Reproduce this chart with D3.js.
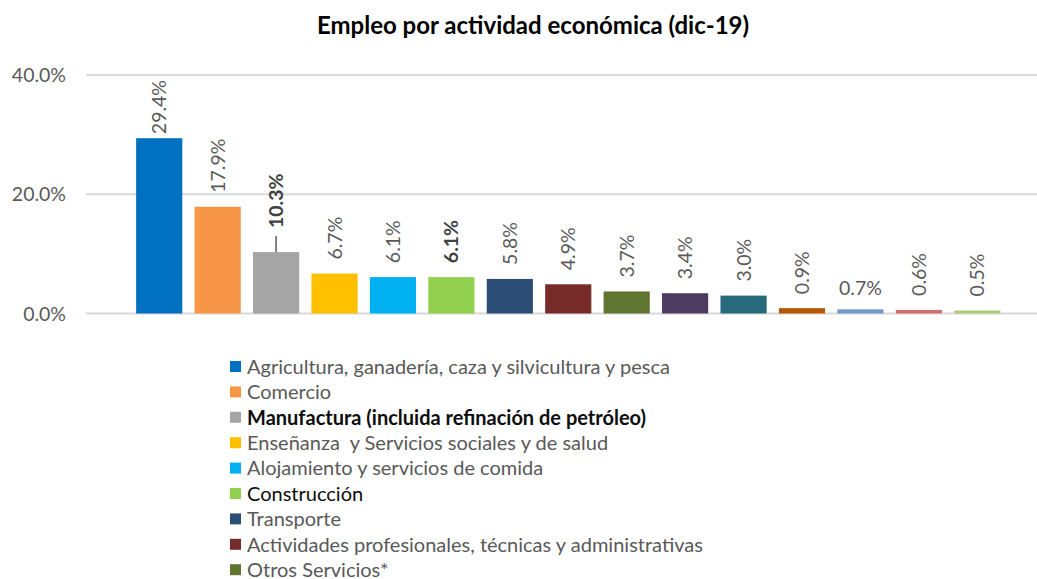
<html>
<head>
<meta charset="utf-8">
<script src="https://d3js.org/d3.v7.min.js"></script>
<style>
  body { margin: 0; background: #fff; }
  svg { display: block; font-family: Lato, "Open Sans", sans-serif; }
</style>
</head>
<body>
<svg width="1037" height="579"></svg>
<script>
// chart data
var categories = [
  "Agricultura, ganadería, caza y silvicultura y pesca",
  "Comercio",
  "Manufactura (incluida refinación de petróleo)",
  "Enseñanza  y Servicios sociales y de salud",
  "Alojamiento y servicios de comida",
  "Construcción",
  "Transporte",
  "Actividades profesionales, técnicas y administrativas",
  "Otros Servicios*",
  "Categoría 10",
  "Categoría 11",
  "Categoría 12",
  "Categoría 13",
  "Categoría 14",
  "Categoría 15"
];
var values = [29.4, 17.9, 10.3, 6.7, 6.1, 6.1, 5.8, 4.9, 3.7, 3.4, 3.0, 0.9, 0.7, 0.6, 0.5];
var colors = ["#0070c0", "#f79646", "#a5a5a5", "#ffc000", "#00b0f0", "#92d050", "#2c4d75",
              "#772c2a", "#5f7530", "#4d3b62", "#276a7c", "#b65708", "#729aca", "#d16e6b", "#afc97a"];
var yTicks = [0, 20, 40];
var legendCount = 9;   // only the first nine entries fit in the picture
var title = "Empleo por actividad económica (dic-19)";

var svg = d3.select("svg");
var gray = "#595959";

var y = d3.scaleLinear().domain([0, 40]).range([313.5, 75]);
var x = d3.scaleBand()
    .domain(d3.range(values.length))
    .range([130, 1006.5])
    .paddingInner(0.21)
    .paddingOuter(0.105);

// title
svg.append("text")
    .attr("x", 533).attr("y", 34)
    .attr("text-anchor", "middle")
    .style("font-size", "24px").style("font-weight", "bold")
    .style("fill", "#000")
    .text(title);

// gridlines + y labels
svg.append("g").selectAll("line")
    .data(yTicks).enter().append("line")
    .attr("x1", 86).attr("x2", 1037)
    .attr("y1", function(d) { return y(d); })
    .attr("y2", function(d) { return y(d); })
    .style("stroke", "#d9d9d9").style("stroke-width", "2px");

svg.append("g").selectAll("text")
    .data(yTicks).enter().append("text")
    .attr("x", 66)
    .attr("y", function(d) { return y(d); })
    .attr("dy", "0.36em")
    .attr("text-anchor", "end")
    .style("font-size", "19.5px").style("fill", gray)
    .text(function(d) { return d.toFixed(1) + "%"; });

// bars
svg.append("g").selectAll("rect")
    .data(values).enter().append("rect")
    .attr("x", function(d, i) { return x(i); })
    .attr("width", x.bandwidth())
    .attr("y", function(d) { return y(d); })
    .attr("height", function(d) { return y(0) - y(d); })
    .style("fill", function(d, i) { return colors[i]; });

// data labels
var boldLabels = [2, 5];
var flatLabel = 12;
var leaderIdx = 2;
var labels = svg.append("g");
values.forEach(function(v, i) {
  var cx = x(i) + x.bandwidth() / 2;
  var top = y(v);
  var bold = boldLabels.indexOf(i) >= 0;
  var t = labels.append("text")
      .style("font-size", "19.5px")
      .style("fill", bold ? "#404040" : gray)
      .style("font-weight", bold ? "bold" : "normal")
      .text(v.toFixed(1) + "%");
  if (i === flatLabel) {
    t.attr("x", cx).attr("y", top - 14).attr("text-anchor", "middle");
    return;
  }
  var len = t.node().getComputedTextLength();
  var bottom = top - 14;
  if (i === leaderIdx) {
    bottom = top - 24;
    labels.append("line")
        .attr("x1", cx).attr("x2", cx)
        .attr("y1", top).attr("y2", top - 16)
        .style("stroke", gray).style("stroke-width", "1.5px");
  }
  bottom = Math.max(bottom, 80 + len);
  t.attr("transform", "translate(" + cx + "," + bottom + ") rotate(-90)")
   .attr("dy", "0.36em");
});

// legend
var legend = svg.append("g").selectAll("g")
    .data(categories.slice(0, legendCount)).enter().append("g")
    .attr("transform", function(d, i) { return "translate(230," + (366.5 + i * 25.4) + ")"; });

legend.append("rect")
    .attr("x", 0).attr("y", -5.5)
    .attr("width", 11).attr("height", 11)
    .style("fill", function(d, i) { return colors[i]; });

legend.append("text")
    .attr("x", 17).attr("dy", "0.36em")
    .style("font-size", "20px")
    .style("fill", function(d, i) { return i === 2 || i === 5 ? "#0d0d0d" : gray; })
    .style("font-weight", function(d, i) { return i === 2 ? "bold" : "normal"; })
    .style("white-space", "pre")
    .text(function(d) { return d; });
</script>
</body>
</html>
